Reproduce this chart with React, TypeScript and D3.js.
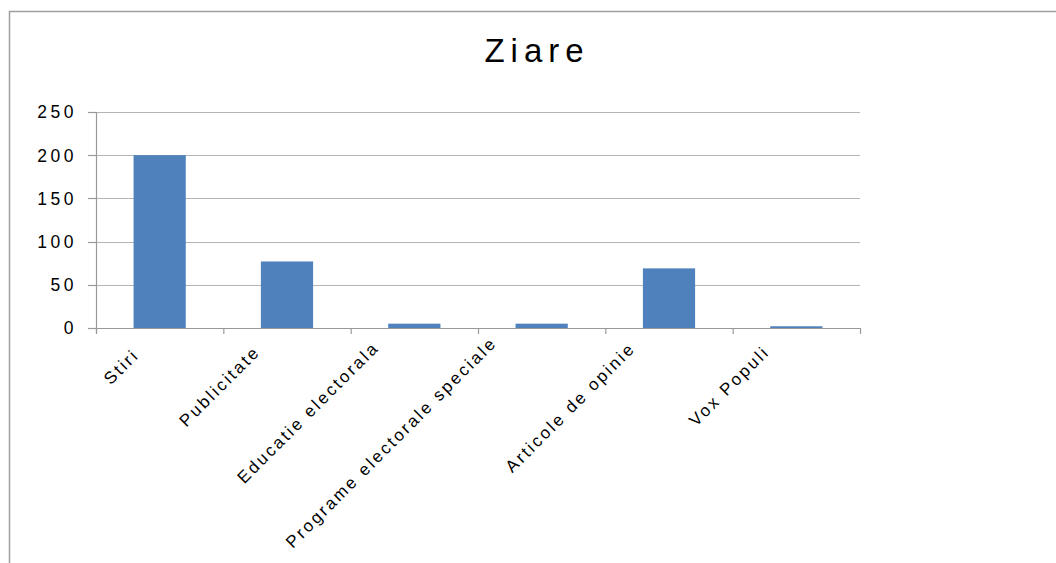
import { useEffect, useRef } from "react";
import * as d3 from "d3";

const categories = [
  "Stiri",
  "Publicitate",
  "Educatie electorala",
  "Programe electorale speciale",
  "Articole de opinie",
  "Vox Populi",
];
const values = [200, 77, 5, 5, 69, 2];
const yTicks = [0, 50, 100, 150, 200, 250];
const title = "Ziare";

function App() {
  const ref = useRef<SVGSVGElement>(null);

  useEffect(() => {
    const width = 1056;
    const height = 563;
    const margin = { top: 112, right: 196, bottom: 235, left: 96 };
    const font = "Liberation Sans, Arial, sans-serif";

    const svg = d3.select(ref.current);
    svg.selectAll("*").remove();

    // chart frame (cut off at right and bottom)
    svg
      .append("path")
      .attr("d", `M9.5,${height} V11.5 H${width}`)
      .attr("fill", "none")
      .attr("stroke", "#a0a0a0")
      .attr("stroke-width", 1.5);

    svg
      .append("text")
      .attr("x", 537)
      .attr("y", 62)
      .attr("text-anchor", "middle")
      .attr("font-family", font)
      .attr("font-size", 33)
      .attr("letter-spacing", 6)
      .attr("fill", "#000")
      .text(title);

    const x = d3
      .scaleBand<string>()
      .domain(categories)
      .range([margin.left, width - margin.right])
      .paddingInner(0.59)
      .paddingOuter(0.295);

    const y = d3
      .scaleLinear()
      .domain([0, 250])
      .range([height - margin.bottom, margin.top]);

    const step = x.step();

    // gridlines
    svg
      .append("g")
      .selectAll("line")
      .data(yTicks.filter((t) => t > 0))
      .join("line")
      .attr("x1", margin.left)
      .attr("x2", width - margin.right)
      .attr("y1", (d) => Math.round(y(d)) + 0.5)
      .attr("y2", (d) => Math.round(y(d)) + 0.5)
      .attr("stroke", "#b4b4b4")
      .attr("stroke-width", 1.2);

    // bars
    svg
      .append("g")
      .selectAll("rect")
      .data(values)
      .join("rect")
      .attr("x", (d, i) => x(categories[i]) as number)
      .attr("y", (d) => y(d))
      .attr("width", x.bandwidth())
      .attr("height", (d) => y(0) - y(d))
      .attr("fill", "#4f81bd");

    // y axis
    const yAxis = svg.append("g");
    yAxis
      .append("line")
      .attr("x1", margin.left + 0.5)
      .attr("x2", margin.left + 0.5)
      .attr("y1", y(250))
      .attr("y2", y(0) + 5)
      .attr("stroke", "#999")
      .attr("stroke-width", 1.2);
    yAxis
      .selectAll("line.tick")
      .data(yTicks)
      .join("line")
      .attr("class", "tick")
      .attr("x1", margin.left - 8)
      .attr("x2", margin.left)
      .attr("y1", (d) => Math.round(y(d)) + 0.5)
      .attr("y2", (d) => Math.round(y(d)) + 0.5)
      .attr("stroke", "#999")
      .attr("stroke-width", 1.2);
    yAxis
      .selectAll("text")
      .data(yTicks)
      .join("text")
      .attr("x", 77)
      .attr("y", (d) => y(d))
      .attr("dy", "0.36em")
      .attr("text-anchor", "end")
      .attr("font-family", font)
      .attr("font-size", 17.5)
      .attr("letter-spacing", 3.5)
      .attr("fill", "#000")
      .text((d) => d);

    // x axis
    const xAxis = svg.append("g");
    xAxis
      .append("line")
      .attr("x1", margin.left)
      .attr("x2", width - margin.right)
      .attr("y1", Math.round(y(0)) + 0.5)
      .attr("y2", Math.round(y(0)) + 0.5)
      .attr("stroke", "#999")
      .attr("stroke-width", 1.2);
    xAxis
      .selectAll("line.tick")
      .data(d3.range(categories.length + 1))
      .join("line")
      .attr("class", "tick")
      .attr("x1", (i) => margin.left + i * step + 0.5)
      .attr("x2", (i) => margin.left + i * step + 0.5)
      .attr("y1", y(0))
      .attr("y2", y(0) + 6)
      .attr("stroke", "#999")
      .attr("stroke-width", 1.2);

    // rotated labels: longer labels sit a bit further left/up, as in the original
    const labels = xAxis
      .selectAll("text")
      .data(categories)
      .join("text")
      .attr("text-anchor", "end")
      .attr("font-family", font)
      .attr("font-size", 17)
      .attr("letter-spacing", 2.5)
      .attr("fill", "#000")
      .text((d) => d);
    labels.attr("transform", function (d) {
      const len = (this as SVGTextElement).getComputedTextLength();
      const cx = (x(d) as number) + x.bandwidth() / 2;
      const ex = cx - 15.4 - 0.098 * len;
      const ey = y(0) + 30 - 0.049 * len;
      return `translate(${ex},${ey}) rotate(-45)`;
    });
  }, []);

  return (
    <svg
      ref={ref}
      width={1056}
      height={563}
      style={{ position: "absolute", left: 0, top: 0, background: "#fff" }}
    />
  );
}

export default App;
